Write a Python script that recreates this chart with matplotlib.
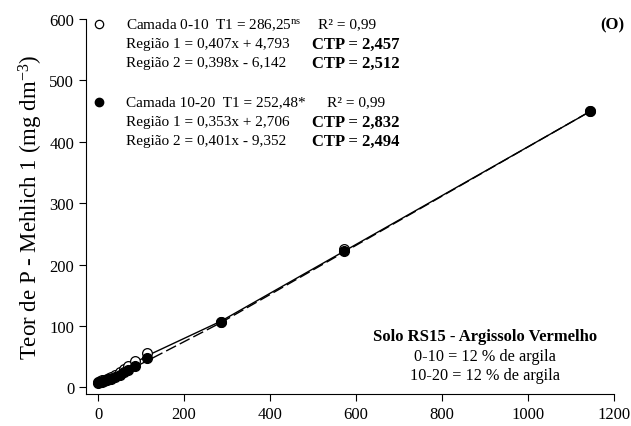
import numpy as np
import matplotlib
matplotlib.use("Agg")
import matplotlib.pyplot as plt

plt.rcParams['font.family'] = ['Liberation Serif', 'DejaVu Serif']
plt.rcParams['mathtext.fontset'] = 'custom'
plt.rcParams['mathtext.rm'] = 'Liberation Serif'
plt.rcParams['mathtext.it'] = 'Liberation Serif:italic'
plt.rcParams['mathtext.bf'] = 'Liberation Serif:bold'

# doses (x) and P-Mehlich
dose = [0, 5, 10, 15, 20, 25, 30, 40, 50, 60, 70, 85, 115, 286, 572, 1145]
p_0_10 = [9, 10, 11, 12, 14, 15, 17, 20, 24, 29, 34, 43, 55, 106, 226, 450]
p_10_20 = [7, 8, 9, 10, 11, 13, 14, 17, 20, 24, 28, 35, 47, 106, 222, 450]

# fitted two-region models (slope, intercept); first n doses belong to region 1
n_reg1 = 13
reg1_0_10 = (0.407, 4.793)
reg2_0_10 = (0.398, -6.142)
reg1_10_20 = (0.353, 2.706)
reg2_10_20 = (0.401, -9.352)

xticks = [0, 200, 400, 600, 800, 1000, 1200]
yticks = [0, 100, 200, 300, 400, 500, 600]

lines_0_10 = ["Camada 0-10  T1 = 286,25$^{\\rm ns}$",
              "Região 1 = 0,407x + 4,793",
              "Região 2 = 0,398x - 6,142"]
ctp_0_10 = ["CTP = 2,457", "CTP = 2,512"]
lines_10_20 = ["Camada 10-20  T1 = 252,48*",
               "Região 1 = 0,353x + 2,706",
               "Região 2 = 0,401x - 9,352"]
ctp_10_20 = ["CTP = 2,832", "CTP = 2,494"]


def two_region(r1, r2):
    xs = np.array(dose, dtype=float)
    idx = np.arange(len(xs))
    ys = np.where(idx < n_reg1, r1[0] * xs + r1[1], r2[0] * xs + r2[1])
    return xs, ys


fig = plt.figure(figsize=(6.31, 4.27), dpi=100)
ax = fig.add_axes([0.1363, 0.075, 0.8367, 0.878])

xs, ys = two_region(reg1_0_10, reg2_0_10)
ax.plot(xs, ys, color='black', lw=1.0, zorder=2)
xs, ys = two_region(reg1_10_20, reg2_10_20)
ax.plot(xs, ys, color='black', lw=1.0, ls=(0, (8, 3)), zorder=2)

ax.plot(dose, p_0_10, 'o', ms=7, mfc='white', mec='black', mew=0.9, zorder=3)
ax.plot(dose, p_10_20, 'o', ms=7, mfc='black', mec='black', zorder=4)

ax.set_xlim(-28, 1200)
ax.set_ylim(-11, 600)
ax.set_xticks(xticks)
ax.set_yticks(yticks)
ax.spines['top'].set_visible(False)
ax.spines['right'].set_visible(False)
ax.spines['left'].set_bounds(-11, 600)
ax.tick_params(direction='out', length=5, width=0.8, labelsize=12)
ax.set_ylabel("Teor de P - Mehlich 1 (mg dm$^{-3}$)", fontsize=16.5, labelpad=3)

fs = 11
step = 0.052
# legend markers
ax.plot([0.0246], [0.987], 'o', ms=6, mfc='white', mec='black', mew=0.9,
        transform=ax.transAxes, clip_on=False)
ax.plot([0.0246], [0.779], 'o', ms=6, mfc='black', mec='black',
        transform=ax.transAxes, clip_on=False)
for i, s in enumerate(lines_0_10):
    ax.text(0.0758, 0.987 - i * step, s, fontsize=fs, va='center', transform=ax.transAxes)
for i, s in enumerate(lines_10_20):
    ax.text(0.0758, 0.779 - i * step, s, fontsize=fs, va='center', transform=ax.transAxes)
ax.text(0.439, 0.987, "R² = 0,99", fontsize=fs, va='center', transform=ax.transAxes)
ax.text(0.456, 0.779, "R² = 0,99", fontsize=fs, va='center', transform=ax.transAxes)
for i, s in enumerate(ctp_0_10):
    ax.text(0.428, 0.987 - (i + 1) * step, s, fontsize=12, fontweight='bold',
            va='center', transform=ax.transAxes)
for i, s in enumerate(ctp_10_20):
    ax.text(0.428, 0.779 - (i + 1) * step, s, fontsize=12, fontweight='bold',
            va='center', transform=ax.transAxes)
ax.text(1.02, 0.987, "(O)", fontsize=12, fontweight='bold', ha='right', va='center',
        transform=ax.transAxes)

ax.text(0.756, 0.155, "Solo RS15 - Argissolo Vermelho", fontsize=12, fontweight='bold',
        ha='center', va='center', transform=ax.transAxes)
ax.text(0.756, 0.101, "0-10 = 12 % de argila", fontsize=11.7, ha='center', va='center',
        transform=ax.transAxes)
ax.text(0.756, 0.051, "10-20 = 12 % de argila", fontsize=11.7, ha='center', va='center',
        transform=ax.transAxes)

fig.savefig("out.png", dpi=100)
